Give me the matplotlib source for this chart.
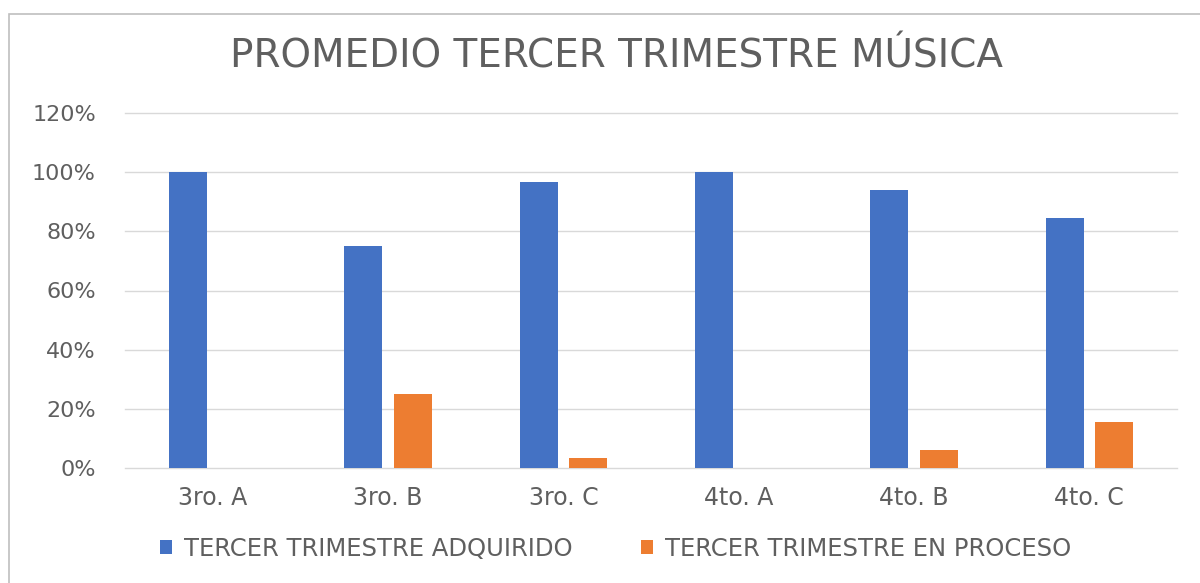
import numpy as np
import matplotlib.pyplot as plt
from matplotlib.patches import Rectangle
from matplotlib.ticker import PercentFormatter

plt.rcParams['font.family'] = ['DejaVu Sans']

grupos = ['3ro. A', '3ro. B', '3ro. C', '4to. A', '4to. B', '4to. C']
adquirido = [1.00, 0.75, 0.967, 1.00, 0.94, 0.845]
en_proceso = [0.0, 0.25, 0.033, 0.0, 0.06, 0.155]
series = ['TERCER TRIMESTRE ADQUIRIDO', 'TERCER TRIMESTRE EN PROCESO']
colores = ['#4472C4', '#ED7D31']
titulo = 'PROMEDIO TERCER TRIMESTRE MÚSICA'

fig = plt.figure(figsize=(12, 5.83), dpi=100)
# marco gris del grafico
fig.patches.append(Rectangle((9/1200, -0.05), 1.2, 1 - 14/583 + 0.05, transform=fig.transFigure,
                             fill=False, edgecolor='#bfbfbf', linewidth=1.2))
ax = fig.add_axes([125/1200, 1 - 468/583, 1052/1200, (468 - 113)/583])

x = np.arange(len(grupos))
w = 0.217
ax.bar(x - 0.14, adquirido, w, color=colores[0], label=series[0], zorder=3)
ax.bar(x + 0.14, en_proceso, w, color=colores[1], label=series[1], zorder=3)

ax.set_xlim(-0.5, len(grupos) - 0.5)
ax.set_ylim(0, 1.2)
ax.set_yticks(np.arange(0, 1.21, 0.2))
ax.yaxis.set_major_formatter(PercentFormatter(1.0, decimals=0))
ax.set_xticks(x)
ax.set_xticklabels(grupos)
ax.tick_params(length=0, labelsize=16, colors='#5f5f5f')
ax.tick_params(axis='x', pad=13, labelsize=17)
ax.tick_params(axis='y', pad=21)
ax.grid(axis='y', color='#d9d9d9', linewidth=1.0, zorder=0)
for ln in ax.get_ygridlines():
    ln.set_clip_on(False)
for s in ax.spines.values():
    s.set_visible(False)

fig.text(0.514, 1 - 57/583, titulo, ha='center', va='center', fontsize=28, color='#5f5f5f')

fig.legend(loc='center', bbox_to_anchor=(0.513, 1 - 549/583), ncol=2, frameon=False,
           fontsize=17.5, labelcolor='#5f5f5f', handlelength=0.5, handleheight=0.5,
           columnspacing=2.8, handletextpad=0.5)

fig.savefig('out.png', dpi=100)
